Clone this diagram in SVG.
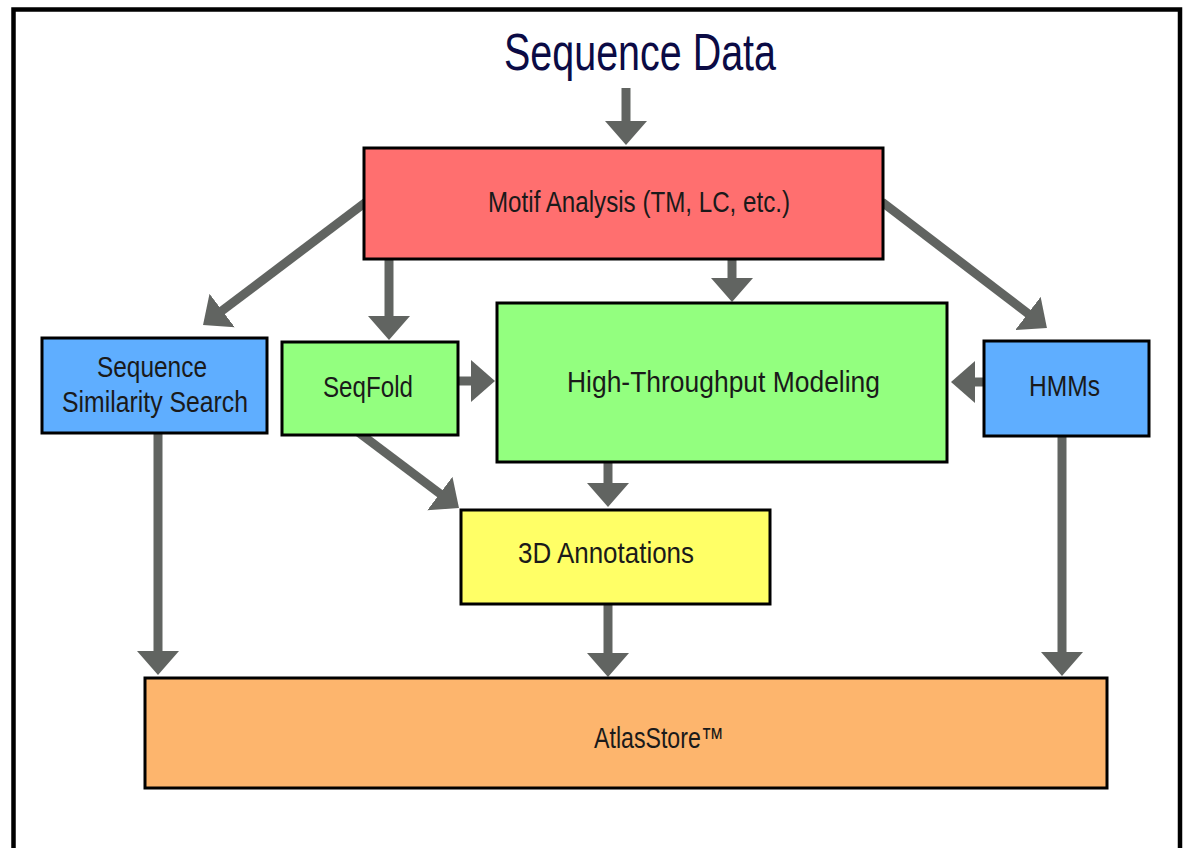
<svg xmlns="http://www.w3.org/2000/svg" width="1188" height="848" viewBox="0 0 1188 848">
<style>
.box{stroke:#000;stroke-width:3}
.t{font-family:"Liberation Sans",Arial,sans-serif;font-size:29px;fill:#1a1a1a}
.title{font-family:"Liberation Sans",Arial,sans-serif;font-size:52px;fill:#0b0b45}
.c{stroke:#616461;stroke-width:9;fill:none;marker-end:url(#ah)}
</style>
<defs>
<marker id="ah" markerUnits="userSpaceOnUse" markerWidth="24" markerHeight="42" viewBox="0 0 24 42" refX="14" refY="21" orient="auto">
<path d="M0,0 L24,21 L0,42 z" fill="#616461"/>
</marker>
</defs>
<rect x="0" y="0" width="1188" height="848" fill="#fff"/>
<path d="M13.5,852 V9.5 H1180 V852" fill="none" stroke="#000" stroke-width="4.5"/>
<g id="title"><text class="title" x="504" y="70" textLength="272" lengthAdjust="spacingAndGlyphs">Sequence Data</text></g>
<g id="connectors">
<line class="c" x1="626" y1="88" x2="626" y2="135"/>
<line class="c" x1="366" y1="202" x2="211" y2="319"/>
<line class="c" x1="389" y1="258" x2="389" y2="330"/>
<line class="c" x1="732" y1="258" x2="732" y2="292"/>
<line class="c" x1="882" y1="202" x2="1039" y2="322"/>
<line class="c" x1="457" y1="381" x2="485" y2="381"/>
<line class="c" x1="985" y1="382" x2="961" y2="382"/>
<line class="c" x1="358" y1="432" x2="451" y2="502"/>
<line class="c" x1="608" y1="461" x2="608" y2="497"/>
<line class="c" x1="158" y1="432" x2="158" y2="665"/>
<line class="c" x1="608" y1="602" x2="608" y2="667"/>
<line class="c" x1="1062" y1="435" x2="1062" y2="666"/>
</g>
<g id="motif"><rect class="box" x="364" y="148" width="519" height="111" fill="#FF6F6F"/>
<text class="t" x="488" y="212" textLength="302" lengthAdjust="spacingAndGlyphs">Motif Analysis (TM, LC, etc.)</text></g>
<g id="sss"><rect class="box" x="42" y="338" width="225" height="95" fill="#5FAEFF"/>
<text class="t" x="97" y="377" textLength="110" lengthAdjust="spacingAndGlyphs">Sequence</text>
<text class="t" x="62" y="412" textLength="186" lengthAdjust="spacingAndGlyphs">Similarity Search</text></g>
<g id="seqfold"><rect class="box" x="282" y="342" width="176" height="93" fill="#93FF7F"/>
<text class="t" x="323" y="397" textLength="90" lengthAdjust="spacingAndGlyphs">SeqFold</text></g>
<g id="htm"><rect class="box" x="497" y="303" width="450" height="159" fill="#93FF7F"/>
<text class="t" x="567" y="392" textLength="313" lengthAdjust="spacingAndGlyphs">High-Throughput Modeling</text></g>
<g id="hmms"><rect class="box" x="984" y="341" width="165" height="95" fill="#5FAEFF"/>
<text class="t" x="1029" y="396" textLength="71" lengthAdjust="spacingAndGlyphs">HMMs</text></g>
<g id="ann3d"><rect class="box" x="461" y="510" width="309" height="94" fill="#FFFF66"/>
<text class="t" x="518" y="563" textLength="176" lengthAdjust="spacingAndGlyphs">3D Annotations</text></g>
<g id="atlas"><rect class="box" x="145" y="678" width="962" height="110" fill="#FDB56D"/>
<text class="t" x="594" y="748" textLength="130" lengthAdjust="spacingAndGlyphs">AtlasStore™</text></g>
</svg>
